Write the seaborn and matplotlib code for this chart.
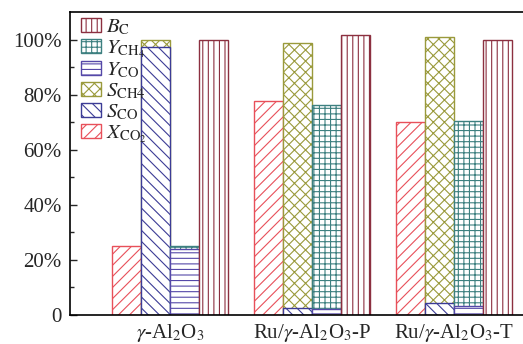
import numpy as np
import pandas as pd
import seaborn as sns
import matplotlib
matplotlib.use('Agg')
import matplotlib.pyplot as plt
from matplotlib.patches import Patch

# values [%]
catalysts = [r'$\gamma$-Al$_2$O$_3$', r'Ru/$\gamma$-Al$_2$O$_3$-P', r'Ru/$\gamma$-Al$_2$O$_3$-T']
x_co2 = [25.1, 77.6, 70.1]
s_co = [97.3, 2.5, 4.2]
s_ch4 = [2.7, 96.2, 96.8]
y_co = [24.0, 2.0, 3.3]
y_ch4 = [1.0, 74.3, 67.1]
b_c = [100.0, 101.5, 99.9]

sns.set_style('white')
plt.rcParams['font.family'] = ['Liberation Serif', 'DejaVu Serif']
plt.rcParams['mathtext.fontset'] = 'stix'
plt.rcParams['hatch.linewidth'] = 0.8

fig = plt.figure(figsize=(5.23, 3.44), dpi=100)
ax = fig.add_axes([70 / 523, 29 / 344, 453 / 523, 303 / 344])

w = 0.204
pos = np.arange(len(catalysts))


def bars(offset, heights, color, hatch):
    n0 = len(ax.patches)
    df = pd.DataFrame({'x': pos + offset, 'y': heights})
    sns.barplot(data=df, x='x', y='y', native_scale=True, width=w,
                errorbar=None, color=color, ax=ax)
    for p in ax.patches[n0:]:
        p.set_facecolor('white')
        p.set_edgecolor(color)
        p.set_hatch(hatch)
        p.set_linewidth(1.0)


# (label, colour, hatch)
st = {
    'X': (r'$X_{\rm CO_2}$', '#e8505a', '///'),
    'SCO': (r'$S_{\rm CO}$', '#3c3c96', '\\\\\\'),
    'SCH4': (r'$S_{\rm CH4}$', '#9a9a3c', 'xxx'),
    'YCO': (r'$Y_{\rm CO}$', '#5548a8', '---'),
    'YCH4': (r'$Y_{\rm CH_4}$', '#3d8080', '+++'),
    'B': (r'$B_{\rm C}$', '#8c3040', '|||'),
}

bars(-1.5 * w, x_co2, st['X'][1], st['X'][2])
# stacked: total drawn first, bottom part on top of it
bars(-0.5 * w, np.add(s_co, s_ch4), st['SCH4'][1], st['SCH4'][2])
bars(-0.5 * w, s_co, st['SCO'][1], st['SCO'][2])
bars(0.5 * w, np.add(y_co, y_ch4), st['YCH4'][1], st['YCH4'][2])
bars(0.5 * w, y_co, st['YCO'][1], st['YCO'][2])
bars(1.5 * w, b_c, st['B'][1], st['B'][2])

ax.set_xlim(-0.704, 2.486)
ax.set_ylim(0, 110)
ax.set_xticks(pos)
ax.set_xticklabels(catalysts, fontsize=15)
ax.set_yticks([0, 20, 40, 60, 80, 100])
ax.set_yticklabels(['0', '20%', '40%', '60%', '80%', '100%'], fontsize=15)
ax.set_yticks([10, 30, 50, 70, 90], minor=True)
ax.tick_params(axis='y', which='major', direction='in', length=5, width=1, left=True, pad=6)
ax.tick_params(axis='y', which='minor', direction='in', length=3, width=1, left=True)
ax.tick_params(axis='x', length=0, pad=5)
ax.set_xlabel('')
ax.set_ylabel('')
for s in ['left', 'bottom', 'top']:
    ax.spines[s].set_color('black')
    ax.spines[s].set_linewidth(1.2)
ax.spines['right'].set_visible(False)

handles = [Patch(facecolor='white', edgecolor=st[k][1], hatch=st[k][2], label=st[k][0])
           for k in ['B', 'YCH4', 'YCO', 'SCH4', 'SCO', 'X']]
ax.legend(handles=handles, loc='upper left', bbox_to_anchor=(0.012, 1.0),
          frameon=False, fontsize=15,
          handlelength=1.0, handleheight=0.65, labelspacing=0.05,
          handletextpad=0.2, borderaxespad=0.0, borderpad=0.25)

fig.savefig('out.png', dpi=100)
